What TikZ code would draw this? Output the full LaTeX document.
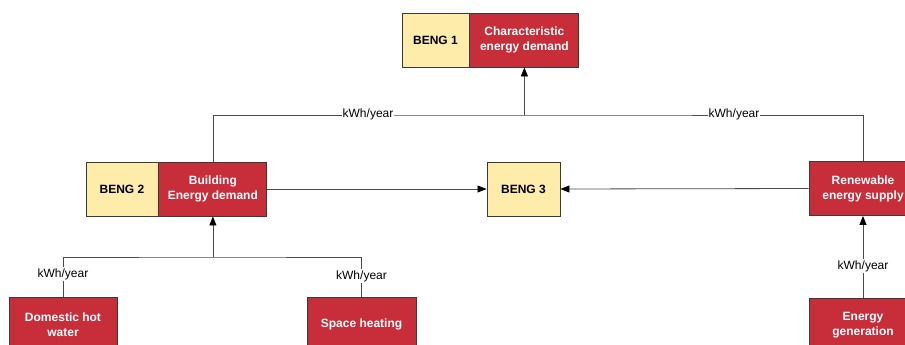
\documentclass[tikz,border=0pt]{standalone}
\usepackage{fontspec}
\setmainfont{Liberation Sans}
\usetikzlibrary{arrows.meta}
\definecolor{bengred}{HTML}{C82D3A}
\definecolor{bengyellow}{HTML}{FDECAA}
\definecolor{edge}{HTML}{3A3A3A}
\definecolor{wire}{HTML}{4A4A4A}
\tikzset{
  box/.style={rectangle, draw=edge, line width=0.9pt, minimum height=54pt,
    inner sep=0pt, align=center, font=\fontsize{12}{15}\selectfont\bfseries},
  ybox/.style={box, fill=bengyellow, text=black},
  rbox/.style={box, fill=bengred, text=white},
  conn/.style={draw=wire, line width=0.8pt},
  arr/.style={conn, -{Triangle[length=9pt,width=7pt,black]}},
  lbl/.style={fill=white, inner sep=1pt, text=black,
    font=\fontsize{12}{13.5}\selectfont}
}
\begin{document}
\begin{tikzpicture}[x=1pt,y=-1pt]
\useasboundingbox (0,0) rectangle (905,345);
\clip (0,0) rectangle (905,345);
\fill[white] (0,0) rectangle (905,345);

% BENG 1
\node[ybox, minimum width=67pt] (b1y) at (435.5,40) {BENG 1};
\node[rbox, minimum width=109pt, anchor=west] (b1r) at (b1y.east) {Characteristic\\energy demand};

% BENG 2
\node[ybox, minimum width=72pt] (b2y) at (122,189) {BENG 2};
\node[rbox, minimum width=108pt, anchor=west] (b2r) at (b2y.east) {Building\\Energy demand};

% BENG 3
\node[ybox, minimum width=73pt] (b3) at (523.5,189) {BENG 3};

% Renewable supply
\node[rbox, minimum width=108pt] (ren) at (863,188.5) {Renewable\\energy supply};

% Sources
\node[rbox, minimum width=108pt, anchor=north] (dhw) at (63,297) {Domestic hot\\water};
\node[rbox, minimum width=109pt, anchor=north] (sh) at (361.5,297) {Space heating};
\node[rbox, minimum width=108pt, anchor=north] (eg) at (863,298) {Energy\\generation};

% Junctions
\coordinate (j1) at (b1r.south |- 0,115);
\coordinate (j2) at (b2r.south |- 0,257);

% Upper collector
\draw[conn] (b2r.north) |- (j1) -| (ren.north);
\draw[arr] (j1) -- (b1r.south);
\node[lbl] (l1) at (368,114) {kWh/year};
\node[lbl] (l2) at (734,114) {kWh/year};

% Lower collector
\draw[conn] (dhw.north) |- (j2) -| (sh.north);
\draw[arr] (j2) -- (b2r.south);
\node[lbl] (l3) at (63,274) {kWh/year};
\node[lbl] (l4) at (361.5,276) {kWh/year};

% Flows into BENG 3
\draw[arr] (b2r.east) -- (b3.west);
\draw[arr] (ren.west) -- (b3.east);

% Generation to supply
\draw[arr] (eg.north) -- (ren.south);
\node[lbl] (l5) at (863,266) {kWh/year};
\end{tikzpicture}
\end{document}
